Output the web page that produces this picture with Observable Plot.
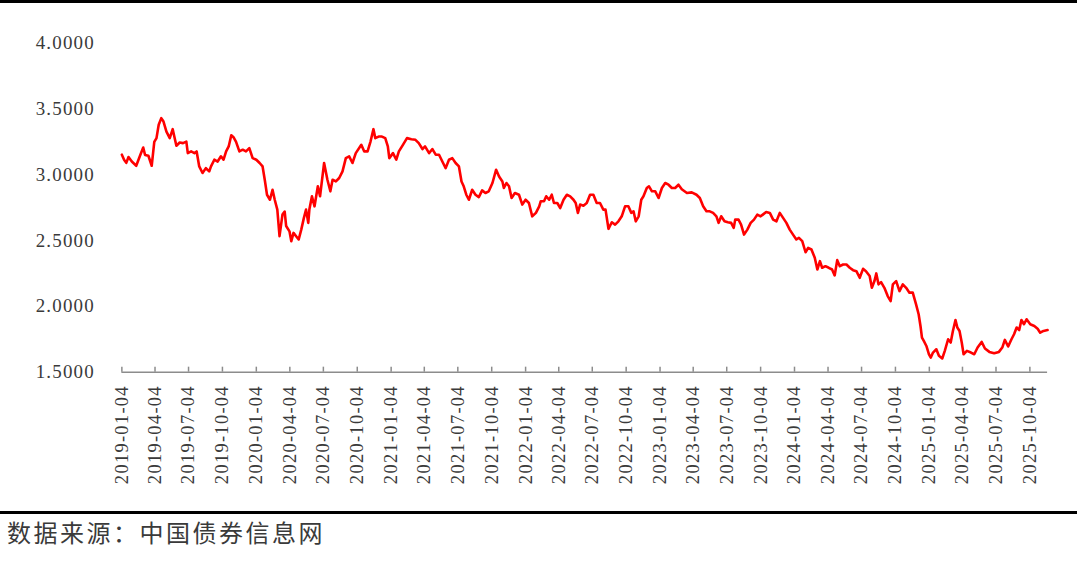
<!DOCTYPE html>
<html><head><meta charset="utf-8">
<script src="https://cdn.jsdelivr.net/npm/d3@7"></script>
<script src="https://cdn.jsdelivr.net/npm/@observablehq/plot@0.6"></script>
<style>
html,body{margin:0;padding:0;background:#fff;}
#wrap{width:1077px;border-top:3px solid #000;}
#chart svg{display:block;overflow:visible;}
#rule{width:1077px;border-top:3px solid #000;}
#source{font-family:"Noto Sans CJK SC";font-size:24px;letter-spacing:2.5px;color:#3a3a3a;padding-left:7px;margin-top:3px;line-height:30px;}
</style></head><body>
<div id="wrap"><div id="chart"></div></div>
<div id="rule"></div>
<div id="source">数据来源：中国债券信息网</div>
<script>
const dates = [
"2019-01-04","2019-01-10","2019-01-16","2019-01-22","2019-01-31","2019-02-12","2019-02-23","2019-03-03","2019-03-08","2019-03-17","2019-03-26",
"2019-04-02","2019-04-08","2019-04-14","2019-04-21","2019-04-27","2019-05-05","2019-05-14","2019-05-22","2019-06-01","2019-06-10","2019-06-19","2019-06-28",
"2019-07-02","2019-07-11","2019-07-20","2019-07-26","2019-08-02","2019-08-11","2019-08-20","2019-08-29","2019-09-03","2019-09-12","2019-09-21","2019-09-30",
"2019-10-07","2019-10-14","2019-10-21","2019-10-28","2019-11-03","2019-11-10","2019-11-19","2019-11-28","2019-12-07","2019-12-16","2019-12-25",
"2020-01-04","2020-01-13","2020-01-21","2020-01-27","2020-02-02","2020-02-10","2020-02-17","2020-02-23","2020-03-01","2020-03-07","2020-03-15","2020-03-21","2020-03-25",
"2020-04-03","2020-04-08","2020-04-14","2020-04-21","2020-04-28","2020-05-05","2020-05-12","2020-05-18","2020-05-24","2020-05-27","2020-06-03","2020-06-10","2020-06-19","2020-06-25",
"2020-07-06","2020-07-15","2020-07-23","2020-07-29","2020-08-07","2020-08-16","2020-08-25","2020-09-03","2020-09-12","2020-09-21","2020-09-30",
"2020-10-15","2020-10-23","2020-11-01","2020-11-09","2020-11-17","2020-11-22","2020-12-01","2020-12-10","2020-12-19","2020-12-26","2020-12-30",
"2021-01-09","2021-01-18","2021-01-25","2021-02-05","2021-02-16","2021-02-28","2021-03-11","2021-03-20","2021-03-30",
"2021-04-06","2021-04-17","2021-04-26","2021-05-05","2021-05-14","2021-05-25","2021-06-01","2021-06-10","2021-06-19","2021-06-28",
"2021-07-07","2021-07-14","2021-07-20","2021-07-27","2021-08-03","2021-08-12","2021-08-21","2021-08-30","2021-09-08","2021-09-17","2021-09-26",
"2021-10-06","2021-10-16","2021-10-24","2021-11-02","2021-11-06","2021-11-13","2021-11-20","2021-11-27","2021-12-06","2021-12-17","2021-12-26",
"2022-01-04","2022-01-13","2022-01-22","2022-02-01","2022-02-10","2022-02-14","2022-02-23","2022-03-01","2022-03-09","2022-03-16","2022-03-22","2022-03-31",
"2022-04-08","2022-04-17","2022-04-26","2022-05-05","2022-05-14","2022-05-20","2022-05-26","2022-06-01","2022-06-10","2022-06-19","2022-06-28",
"2022-07-07","2022-07-16","2022-07-25","2022-08-03","2022-08-09","2022-08-17","2022-08-26","2022-09-04","2022-09-13","2022-09-22","2022-10-01",
"2022-10-10","2022-10-18","2022-10-24","2022-10-30","2022-11-07","2022-11-14","2022-11-20","2022-11-29","2022-12-05","2022-12-13","2022-12-22","2022-12-31",
"2023-01-09","2023-01-18","2023-01-27","2023-02-05","2023-02-14","2023-02-23","2023-03-04","2023-03-18","2023-03-31",
"2023-04-13","2023-04-22","2023-05-01","2023-05-10","2023-05-19","2023-05-28","2023-06-06","2023-06-12","2023-06-19","2023-06-28",
"2023-07-07","2023-07-16","2023-07-23","2023-07-27","2023-08-05","2023-08-12","2023-08-20","2023-08-29","2023-09-07","2023-09-16","2023-09-25",
"2023-10-04","2023-10-10","2023-10-19","2023-10-29","2023-11-07","2023-11-16","2023-11-25","2023-12-04","2023-12-13","2023-12-22","2023-12-31",
"2024-01-09","2024-01-16","2024-01-25","2024-02-03","2024-02-10","2024-02-19","2024-02-28","2024-03-06","2024-03-13","2024-03-19","2024-03-28",
"2024-04-06","2024-04-15","2024-04-22","2024-04-29","2024-05-06","2024-05-15","2024-05-24","2024-06-02","2024-06-11","2024-06-20","2024-06-29",
"2024-07-08","2024-07-16","2024-07-26","2024-08-01","2024-08-08","2024-08-13","2024-08-19","2024-08-26","2024-09-04","2024-09-13","2024-09-21","2024-09-27",
"2024-10-06","2024-10-15","2024-10-24","2024-11-02","2024-11-11","2024-11-20","2024-11-29","2024-12-06","2024-12-11","2024-12-15","2024-12-20","2024-12-27",
"2025-01-03","2025-01-08","2025-01-14","2025-01-23","2025-01-30","2025-02-08","2025-02-15","2025-02-24","2025-03-03","2025-03-09","2025-03-16","2025-03-21","2025-03-27",
"2025-04-02","2025-04-07","2025-04-16","2025-04-27","2025-05-06","2025-05-15","2025-05-26","2025-06-04","2025-06-16","2025-06-29",
"2025-07-12","2025-07-21","2025-07-28","2025-08-06","2025-08-15","2025-08-22","2025-08-29","2025-09-05","2025-09-11","2025-09-18","2025-09-25",
"2025-10-05","2025-10-16","2025-10-25","2025-11-01","2025-11-10","2025-11-21"
];
const yields = [
3.152,3.114,3.09,3.134,3.10,3.068,3.15,3.207,3.15,3.144,3.068,
3.25,3.278,3.379,3.43,3.404,3.328,3.278,3.346,3.22,3.245,3.24,3.252,
3.164,3.177,3.164,3.177,3.063,3.013,3.05,3.025,3.063,3.114,3.10,3.14,
3.114,3.177,3.215,3.30,3.285,3.25,3.177,3.19,3.177,3.202,3.126,
3.114,3.089,3.063,2.96,2.848,2.81,2.886,2.81,2.735,2.533,2.697,2.72,2.61,
2.57,2.495,2.558,2.533,2.508,2.583,2.67,2.735,2.634,2.735,2.836,2.76,2.912,2.836,
3.089,2.962,2.874,2.962,2.949,2.975,3.025,3.126,3.139,3.089,3.164,
3.227,3.177,3.177,3.252,3.346,3.278,3.29,3.29,3.278,3.215,3.126,
3.164,3.114,3.177,3.227,3.278,3.27,3.265,3.24,3.195,
3.215,3.164,3.195,3.152,3.152,3.089,3.05,3.114,3.126,3.089,
3.063,2.949,2.912,2.848,2.81,2.886,2.848,2.83,2.881,2.861,2.874,
2.937,3.038,2.987,2.949,2.899,2.937,2.912,2.823,2.861,2.848,2.773,
2.81,2.785,2.684,2.71,2.76,2.798,2.798,2.836,2.81,2.848,2.785,2.785,
2.747,2.81,2.848,2.836,2.81,2.785,2.71,2.773,2.765,2.785,2.848,
2.848,2.785,2.785,2.735,2.735,2.589,2.639,2.621,2.646,2.684,2.76,
2.76,2.71,2.722,2.646,2.684,2.81,2.836,2.899,2.912,2.874,2.874,2.823,
2.899,2.937,2.924,2.899,2.899,2.924,2.89,2.861,2.866,
2.848,2.823,2.76,2.722,2.722,2.71,2.684,2.634,2.684,2.646,
2.639,2.634,2.596,2.659,2.659,2.621,2.545,2.583,2.634,2.659,2.697,
2.684,2.697,2.717,2.71,2.659,2.646,2.71,2.672,2.634,2.583,2.545,
2.508,2.52,2.495,2.411,2.444,2.432,2.369,2.28,2.343,2.293,2.305,
2.293,2.28,2.235,2.351,2.305,2.318,2.318,2.293,2.275,2.267,2.217,
2.285,2.267,2.23,2.141,2.192,2.25,2.167,2.184,2.141,2.078,2.04,2.167,
2.192,2.116,2.167,2.141,2.104,2.104,2.015,1.94,1.851,1.763,1.737,1.699,
1.636,1.611,1.649,1.674,1.624,1.604,1.662,1.75,1.725,1.813,1.896,1.839,1.813,
1.725,1.636,1.662,1.649,1.636,1.687,1.73,1.68,1.654,1.644,
1.654,1.687,1.745,1.695,1.75,1.788,1.839,1.82,1.896,1.864,1.902,
1.864,1.851,1.83,1.80,1.813,1.82
];
const xTickLabels = ["2019-01-04","2019-04-04","2019-07-04","2019-10-04","2020-01-04","2020-04-04","2020-07-04","2020-10-04",
"2021-01-04","2021-04-04","2021-07-04","2021-10-04","2022-01-04","2022-04-04","2022-07-04","2022-10-04",
"2023-01-04","2023-04-04","2023-07-04","2023-10-04","2024-01-04","2024-04-04","2024-07-04","2024-10-04",
"2025-01-04","2025-04-04","2025-07-04","2025-10-04"];
const yTicks = [1.5,2.0,2.5,3.0,3.5,4.0];
const xDomain = ["2019-01-04","2025-11-21"];

const data = dates.map((d,i)=>({date:new Date(d), value:yields[i]}));
const tickDates = xTickLabels.map(s=>new Date(s));

const chart = Plot.plot({
  width:1080, height:509,
  marginLeft:121.7, marginRight:30, marginTop:39.7, marginBottom:139.3,
  style:{fontFamily:"Liberation Serif", fontSize:"19px", color:"#3a3a3a", background:"transparent"},
  x:{type:"utc", domain:xDomain.map(s=>new Date(s))},
  y:{domain:[yTicks[0], yTicks[yTicks.length-1]]},
  marks:[
    Plot.axisY({ticks:yTicks, tickSize:0, tickPadding:27, tickFormat:d3.format(".4f"), label:null, fontSize:19}),
    Plot.axisX({ticks:tickDates, tickSize:0, tickPadding:13, tickRotate:-90, tickFormat:d3.utcFormat("%Y-%m-%d"), label:null, fontSize:18.5}),
    Plot.ruleY([yTicks[0]], {stroke:"#8c8c8c", strokeWidth:1.5}),
    Plot.ruleX(tickDates, {x:d=>d, y1:yTicks[0], y2:yTicks[0], insetTop:-5, stroke:"#8c8c8c", strokeWidth:1.5}),
    Plot.line(data, {x:"date", y:"value", stroke:"#ff0000", strokeWidth:2.6})
  ]
});
document.getElementById("chart").appendChild(chart);
d3.select(chart).selectAll('g[aria-label="x-axis tick label"] text').attr("letter-spacing","1.3px");
d3.select(chart).selectAll('g[aria-label="y-axis tick label"] text').attr("letter-spacing","1.2px");
</script>
</body></html>
